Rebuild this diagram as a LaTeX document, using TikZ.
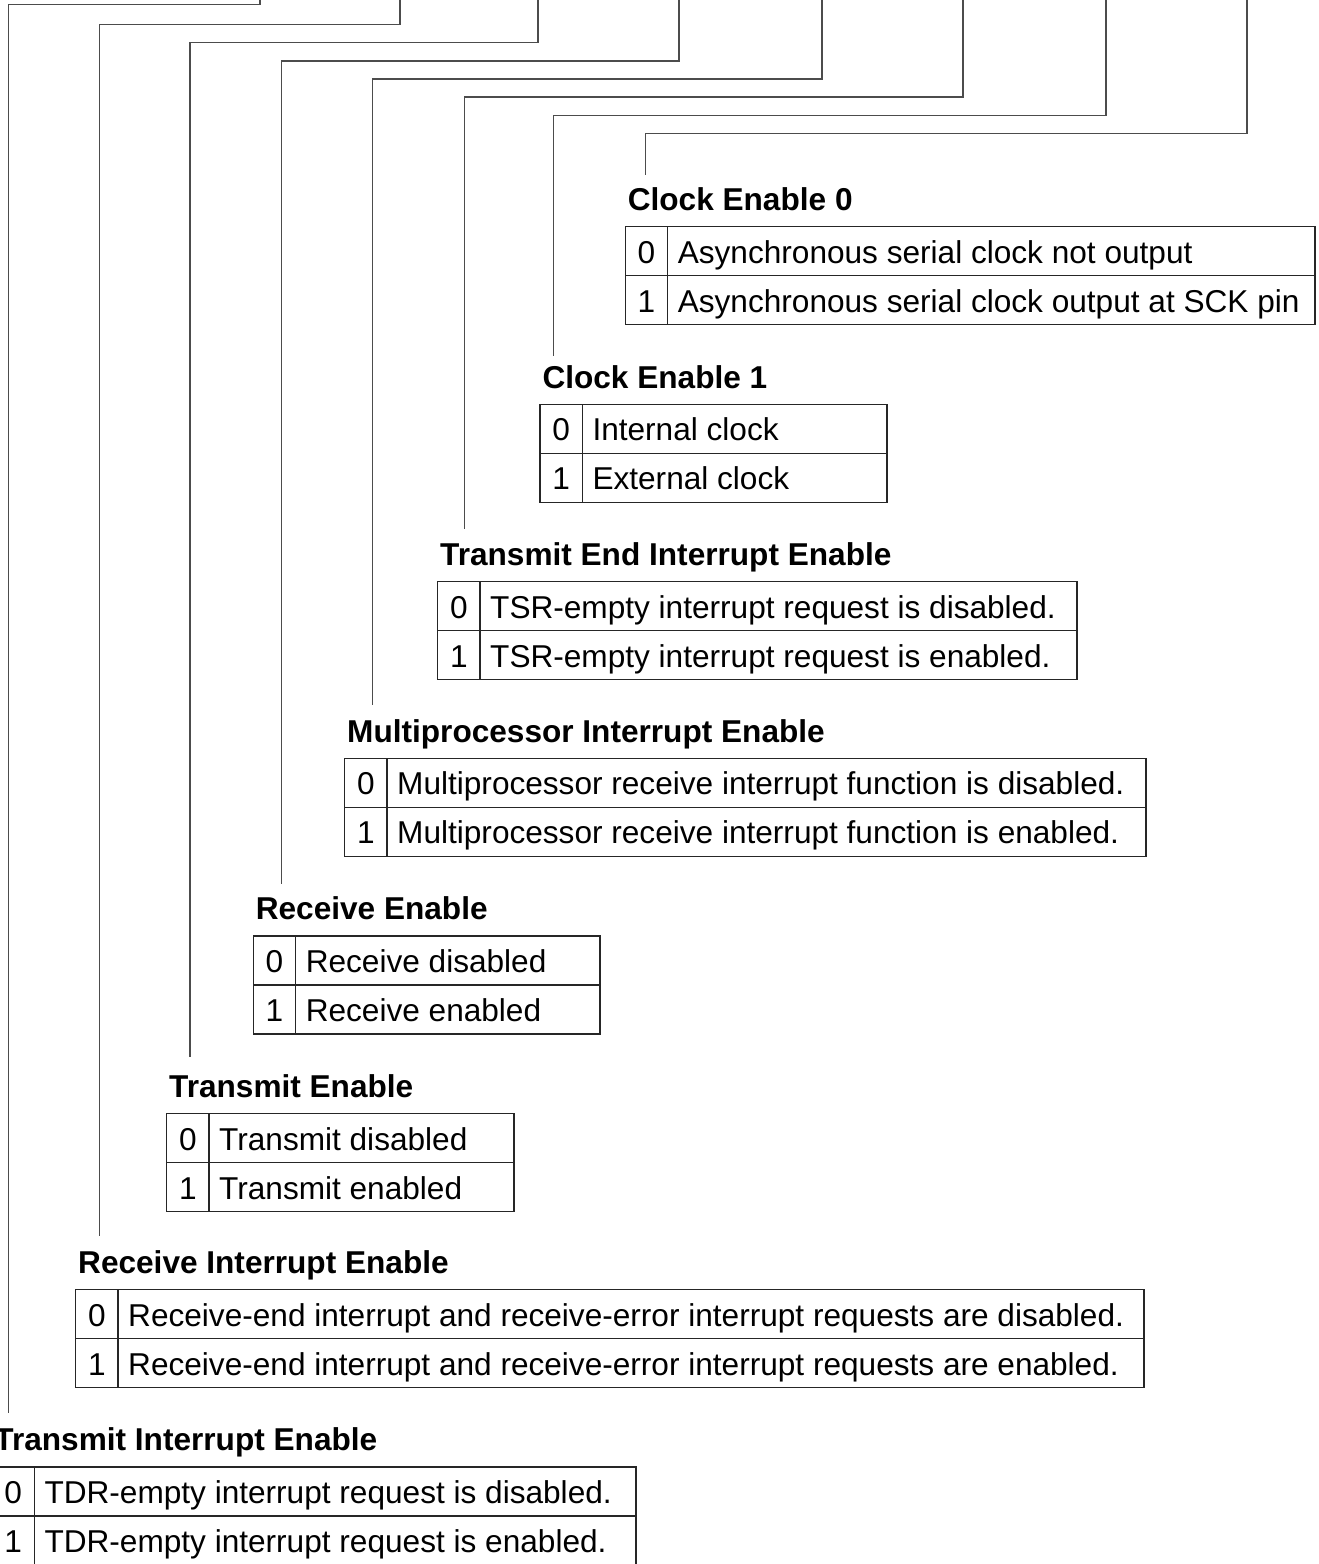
\documentclass[tikz,border=0pt]{standalone}
\usepackage{fontspec}
\setmainfont{Liberation Sans}
\tikzset{
  conn/.style={draw=black!70, line width=1.3pt},
  tbl/.style={draw=black!85, line width=1.3pt},
  ttl/.style={font=\fontsize{31.6pt}{38pt}\selectfont\bfseries, inner sep=0pt, anchor=base west},
  dig/.style={font=\fontsize{31.6pt}{38pt}\selectfont, inner sep=0pt, anchor=base},
  desc/.style={font=\fontsize{31.6pt}{38pt}\selectfont, inner sep=0pt, anchor=base west},
}
% #1 id, #2 left, #3 right, #4 top, #5 title, #6 row 0, #7 row 1
\newcommand\regtable[7]{%
  \node[ttl] (t#1) at (#2+2.3, #4-16.3) {#5};
  \draw[tbl] (#2,#4) rectangle (#3,#4+98);
  \draw[tbl] (#2,#4+49) -- (#3,#4+49);
  \draw[tbl] (#2+42.3,#4) -- (#2+42.3,#4+98);
  \node[dig] (z#1) at (#2+21.15, #4+36.3) {0};
  \node[dig] (o#1) at (#2+21.15, #4+85.3) {1};
  \node[desc] (a#1) at (#2+52.3, #4+36.3) {#6};
  \node[desc] (b#1) at (#2+52.3, #4+85.3) {#7};
}
% #1 id, #2 vertical x, #3 bend y, #4 source x, #5 end y
\newcommand\regconn[5]{%
  \coordinate (s#1) at (#4,-4);
  \coordinate (k#1) at (#2,#3);
  \coordinate (e#1) at (#2,#5);
  \draw[conn] (s#1) |- (k#1) -- (e#1);
}
\begin{document}
\begin{tikzpicture}[x=1pt,y=-1pt]
\useasboundingbox (0,0) rectangle (1318,1564);
\clip (0,0) rectangle (1318,1564);

\regconn{1}{8.3}{4.7}{260}{1413}
\regconn{2}{99.3}{24.3}{400}{1236}
\regconn{3}{190}{42.7}{538}{1056.7}
\regconn{4}{281.3}{61}{679}{884.3}
\regconn{5}{372.7}{79}{822}{705}
\regconn{6}{464.3}{97}{963}{529}
\regconn{7}{553.7}{115.3}{1106}{356}
\regconn{8}{645.7}{133.3}{1247}{175}

\regtable{8}{625.3}{1315}{226.7}{Clock Enable 0}{Asynchronous serial clock not output}{Asynchronous serial clock output at SCK pin}
\regtable{7}{540}{887}{404.3}{Clock Enable 1}{Internal clock}{External clock}
\regtable{6}{437.7}{1077}{581.7}{Transmit End Interrupt Enable}{TSR-empty interrupt request is disabled.}{TSR-empty interrupt request is enabled.}
\regtable{5}{344.7}{1146}{758.3}{Multiprocessor Interrupt Enable}{Multiprocessor receive interrupt function is disabled.}{Multiprocessor receive interrupt function is enabled.}
\regtable{4}{253.3}{600}{936}{Receive Enable}{Receive disabled}{Receive enabled}
\regtable{3}{166.7}{514}{1113.7}{Transmit Enable}{Transmit disabled}{Transmit enabled}
\regtable{2}{75.7}{1144}{1289.7}{Receive Interrupt Enable}{Receive-end interrupt and receive-error interrupt requests are disabled.}{Receive-end interrupt and receive-error interrupt requests are enabled.}
\regtable{1}{-8}{636}{1467}{Transmit Interrupt Enable}{TDR-empty interrupt request is disabled.}{TDR-empty interrupt request is enabled.}
\end{tikzpicture}
\end{document}
